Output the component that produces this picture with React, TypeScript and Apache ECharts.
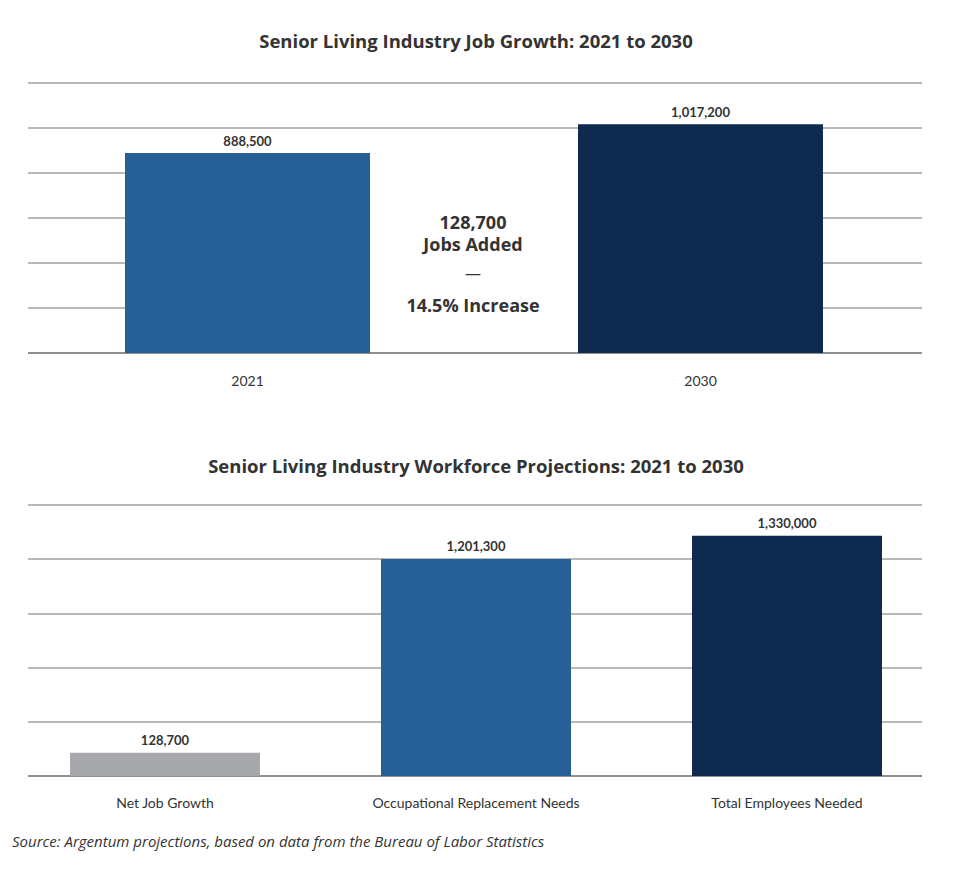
import React, { useEffect, useRef } from "react";
import * as echarts from "echarts";

const topCategories = ["2021", "2030"];
const topValues = [888500, 1017200];
const topMax = 1200000;
const topInterval = 200000;

const bottomCategories = ["Net Job Growth", "Occupational Replacement Needs", "Total Employees Needed"];
const bottomValues = [128700, 1201300, 1330000];
const bottomMax = 1500000;
const bottomInterval = 300000;

const topTitle = "Senior Living Industry Job Growth: 2021 to 2030";
const bottomTitle = "Senior Living Industry Workforce Projections: 2021 to 2030";
const annotationLines = ["128,700", "Jobs Added", "—", "14.5% Increase"];
const sourceText = "Source: Argentum projections, based on data from the Bureau of Labor Statistics";

const topColors = ["#265e96", "#0f2a4f"];
const bottomColors = ["#a7a8ab", "#265e96", "#0f2a4f"];

const FONT = "Lato, 'Open Sans', sans-serif";
const WIDE = "'Open Sans', Lato, sans-serif";
const TEXT = "#333333";
const fmt = (v: number) => v.toLocaleString("en-US");

export default function App() {
  const ref = useRef<HTMLDivElement>(null);
  useEffect(() => {
    if (!ref.current) return;
    const chart = echarts.init(ref.current, null, { renderer: "svg" });
    const gridColors = ["#6b6b6b", "#a0a0a0", "#a0a0a0", "#a0a0a0", "#a0a0a0", "#a0a0a0", "#a0a0a0"];
    const lineYAxis = (gridIndex: number, max: number, interval: number) => ({
      type: "value",
      gridIndex,
      min: 0,
      max,
      interval,
      axisLabel: { show: false },
      axisLine: { show: false },
      axisTick: { show: false },
      splitLine: { show: true, lineStyle: { color: gridColors, width: 1.5 } },
    });
    const barYAxis = (gridIndex: number, max: number, interval: number) => ({
      type: "value",
      gridIndex,
      min: 0,
      max,
      interval,
      show: false,
      splitLine: { show: false },
    });
    const catAxis = (gridIndex: number, data: string[], margin: number) => ({
      type: "category",
      gridIndex,
      data,
      axisLine: { show: false },
      axisTick: { show: false },
      axisLabel: { color: TEXT, fontSize: 14, fontFamily: FONT, margin },
    });
    const hiddenX = (gridIndex: number) => ({ type: "value", gridIndex, show: false, min: 0, max: 1 });
    const barLabel = {
      show: true,
      position: "top",
      distance: 6,
      color: TEXT,
      fontSize: 13,
      fontWeight: "bold",
      fontFamily: FONT,
      formatter: (p: any) => fmt(p.value),
    };
    const annY = [222, 244, 273, 305];
    chart.setOption({
      animation: false,
      backgroundColor: "#ffffff",
      grid: [
        { left: 28, right: 38, top: 83, height: 270 },
        { left: 21, right: 33, top: 83, height: 270 },
        { left: 28, right: 38, top: 505, height: 271 },
        { left: 9.5, right: 17.5, top: 505, height: 271 },
      ],
      xAxis: [hiddenX(0), catAxis(1, topCategories, 20), hiddenX(2), catAxis(3, bottomCategories, 19)],
      yAxis: [
        lineYAxis(0, topMax, topInterval),
        barYAxis(1, topMax, topInterval),
        lineYAxis(2, bottomMax, bottomInterval),
        barYAxis(3, bottomMax, bottomInterval),
      ],
      series: [
        {
          type: "bar",
          xAxisIndex: 1,
          yAxisIndex: 1,
          barWidth: 245,
          z: 3,
          data: topValues.map((v, i) => ({ value: v, itemStyle: { color: topColors[i] } })),
          label: barLabel,
        },
        {
          type: "bar",
          xAxisIndex: 3,
          yAxisIndex: 3,
          barWidth: 190,
          z: 3,
          data: bottomValues.map((v, i) => ({ value: v, itemStyle: { color: bottomColors[i] } })),
          label: barLabel,
        },
      ],
      graphic: [
        {
          type: "rect",
          z: 1,
          shape: { x: 370, y: 148, width: 208, height: 203.5 },
          style: { fill: "#ffffff" },
        },
        {
          type: "text",
          x: 476,
          y: 40,
          z: 5,
          style: { text: topTitle, fill: TEXT, font: `bold 18.5px ${WIDE}`, textAlign: "center", textVerticalAlign: "middle" },
        },
        {
          type: "text",
          x: 476,
          y: 465,
          z: 5,
          style: { text: bottomTitle, fill: TEXT, font: `bold 18.5px ${WIDE}`, textAlign: "center", textVerticalAlign: "middle" },
        },
        ...annotationLines.map((t, i) => ({
          type: "text",
          x: 473,
          y: annY[i],
          z: 5,
          style: {
            text: t,
            fill: TEXT,
            font: i === 2 ? `normal 16px ${WIDE}` : `bold 18px ${WIDE}`,
            textAlign: "center",
            textVerticalAlign: "middle",
          },
        })),
        {
          type: "text",
          x: 12,
          y: 841,
          z: 5,
          style: { text: sourceText, fill: TEXT, font: `italic 15px ${WIDE}`, textAlign: "left", textVerticalAlign: "middle" },
        },
      ],
    });
    return () => chart.dispose();
  }, []);
  return (
    <div
      ref={ref}
      style={{ position: "fixed", left: 0, top: 0, width: 960, height: 884, background: "#fff" }}
    />
  );
}
